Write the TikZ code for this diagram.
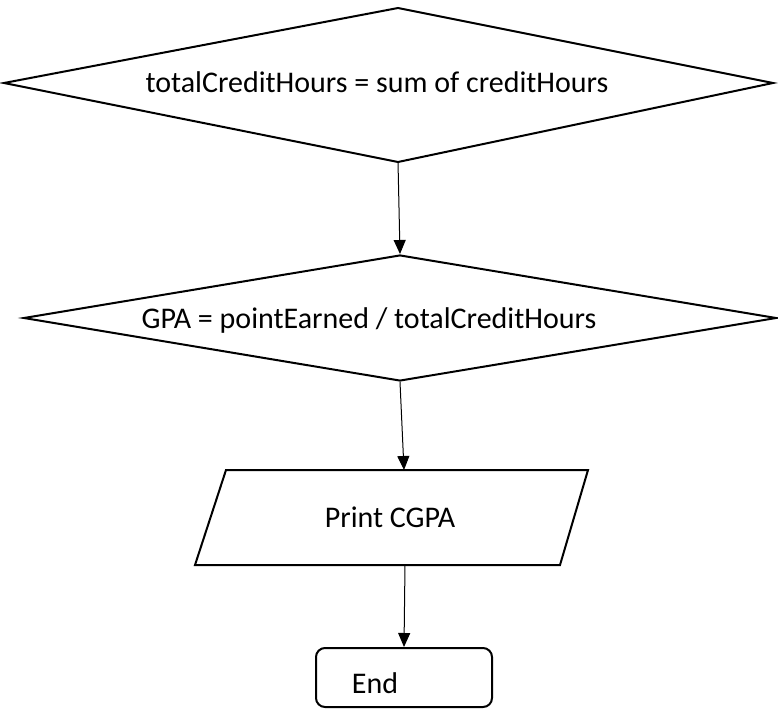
\documentclass[tikz,border=0pt]{standalone}
\usepackage{fontspec}
\setmainfont{Carlito}
\usetikzlibrary{shapes.geometric,arrows.meta}
\begin{document}
\begin{tikzpicture}[x=1pt,y=-1pt,
  shapeline/.style={draw=black,line width=2pt,line join=miter},
  decision/.style={shapeline,diamond,inner sep=0pt},
  txt/.style={font=\fontsize{30}{34}\selectfont,inner sep=0pt,anchor=center},
  flow/.style={draw=black,line width=1pt,-{Triangle[length=14pt,width=12pt]}}]
  \useasboundingbox (0,0) rectangle (778,722);

  % first assignment (diamond with explicit corners)
  \coordinate (d1w) at (4,83);
  \coordinate (d1n) at (398,8);
  \coordinate (d1e) at (773,83);
  \coordinate (d1s) at (398,162);
  \draw[shapeline] (d1w) -- (d1n) -- (d1e) -- (d1s) -- cycle;
  \node[txt] (t1) at (377,82) {totalCreditHours = sum of creditHours};

  % second assignment
  \node[decision,minimum width=753pt,minimum height=126pt] (d2) at (400,318) {};
  \node[txt] (t2) at (369,320) {GPA = pointEarned / totalCreditHours};

  % output step (parallelogram)
  \coordinate (p1) at (226,470);
  \coordinate (p2) at (588,470);
  \coordinate (p3) at (560,565);
  \coordinate (p4) at (195,565);
  \draw[shapeline] (p1) -- (p2) -- (p3) -- (p4) -- cycle;
  \coordinate (pin) at (404,470);
  \coordinate (pout) at (405,565);
  \node[txt] (t3) at (390,517) {Print CGPA};

  % terminator
  \node[shapeline,rounded corners=9pt,minimum width=176pt,minimum height=59pt,inner sep=0pt] (e) at (404,677.5) {};
  \node[txt] (t4) at (375,683) {End};

  % connectors
  \draw[flow] (d1s) -- (d2.north);
  \draw[flow] (d2.south) -- (pin);
  \draw[flow] (pout) -- (e.north);
\end{tikzpicture}
\end{document}
